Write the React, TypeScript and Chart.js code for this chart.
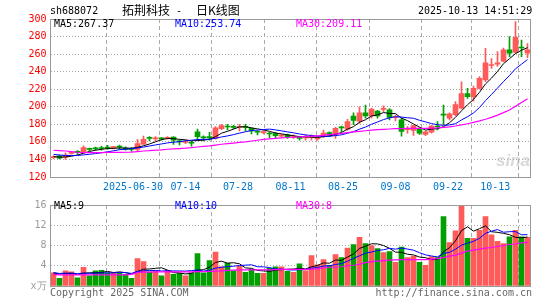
import React, { useEffect, useRef } from 'react';
import { Chart, registerables } from 'chart.js';

Chart.register(...registerables);

const MONO = '"DejaVu Sans Mono", "Liberation Mono", monospace';
const CJK = '"Noto Sans CJK SC", "DejaVu Sans", sans-serif';
const UP = '#ff5a5a';
const DOWN = '#00a000';

const DATES = [
  '06-16', '06-17', '06-18', '06-19', '06-20', '06-23', '06-24', '06-25', '06-26', '06-27',
  '06-30', '07-01', '07-02', '07-03', '07-04', '07-07', '07-08', '07-09', '07-10', '07-11',
  '07-14', '07-15', '07-16', '07-17', '07-18', '07-21', '07-22', '07-23', '07-24', '07-25',
  '07-28', '07-29', '07-30', '07-31', '08-01', '08-04', '08-05', '08-06', '08-07', '08-08',
  '08-11', '08-12', '08-13', '08-14', '08-15', '08-18', '08-19', '08-20', '08-21', '08-22',
  '08-25', '08-26', '08-27', '08-28', '08-29', '09-01', '09-02', '09-03', '09-04', '09-05',
  '09-08', '09-09', '09-10', '09-11', '09-12', '09-15', '09-16', '09-17', '09-18', '09-19',
  '09-22', '09-23', '09-24', '09-25', '09-26', '09-29', '09-30', '10-09', '10-10', '10-13',
];

const OPEN = [
  142, 144, 142.5, 147, 148.5, 148, 152, 152.5, 153, 153.5,
  153.5, 154.5, 153, 152, 151.5, 157.5, 164.5, 163.5, 164.5, 164,
  165.5, 161, 159.5, 159.5, 171.5, 165.5, 166, 164, 175, 178,
  177, 176.5, 177, 175.5, 171.5, 170.5, 170, 169.5, 166.5, 168,
  165, 164.5, 164.5, 165, 163.5, 166, 170.5, 168.5, 176.5, 174.5,
  189.5, 183.5, 193, 189.5, 195, 197, 196.5, 187.5, 185, 174,
  173, 175.5, 168.5, 171, 177.5, 191.5, 187, 191, 198.5, 215,
  211.5, 221, 230.5, 247, 248.5, 252, 265, 262, 268, 261,
];

const CLOSE = [
  143, 141.5, 145, 147.5, 148, 153.5, 151.5, 152, 152.5, 153,
  154, 154, 151.5, 151.5, 158, 163, 164, 164, 163.5, 165,
  162, 160, 161, 158.5, 166, 164.5, 164.5, 176, 178.5, 177,
  176.5, 177.5, 176.5, 172.5, 171, 171, 169, 167, 167.5, 165.5,
  166, 164, 166, 165.5, 164, 170, 168, 175.5, 176, 183,
  184.5, 193, 189.5, 197.5, 189.5, 197.5, 188, 188.5, 172, 175,
  178.5, 170, 171.5, 178, 177, 190.5, 192, 202.5, 215, 211.5,
  221, 232.5, 250, 248, 250, 265, 261, 279, 267, 265,
];

const HIGH = [
  144, 145, 147.5, 149, 150, 155.5, 153, 154, 155, 156,
  155, 156.5, 154.5, 153.5, 163, 166.5, 166, 166, 165, 166,
  166, 162, 162, 160.5, 174.5, 167, 171, 177.5, 180, 180,
  179, 180, 180, 176, 173, 173, 171, 171, 169, 169,
  168, 166, 168, 168, 166, 173.5, 171.5, 176.5, 178, 185.7,
  193, 200, 202, 198.5, 196, 201, 198, 190.5, 187, 177.5,
  179, 176, 172, 179, 183, 202, 193, 206, 228.5, 221,
  223.5, 234.5, 266.5, 255, 263, 267, 280, 297, 276, 272,
];

const LOW = [
  141, 140.5, 140, 146, 146, 147.5, 150, 150.5, 150.5, 151.5,
  152, 151.5, 150.5, 149, 150, 157, 161, 161, 162, 163,
  157, 156.5, 158, 155, 162, 161, 162, 163, 174, 173.5,
  175, 172.5, 172.5, 169, 168, 169, 164.8, 164, 165, 164,
  164, 162, 162, 162, 162, 165, 166.5, 164, 171.5, 173,
  179.5, 181, 187, 187, 187, 194.5, 185, 183.8, 166.5, 169.8,
  167.5, 168.5, 167, 170, 173.5, 179.5, 185, 190, 197.5, 209.5,
  206.5, 220, 228.5, 243.8, 246, 251, 257, 261, 257, 256,
];

// volume, in 万
const VOLUME = [
  2.6, 1.5, 3.0, 2.8, 1.6, 3.7, 2.0, 3.0, 3.1, 2.6,
  2.6, 2.6, 2.3, 1.5, 5.4, 4.8, 2.8, 3.0, 2.0, 3.1,
  2.3, 2.5, 2.0, 2.6, 6.4, 2.6, 5.0, 6.7, 3.8, 4.5,
  3.0, 3.9, 2.7, 3.3, 2.5, 2.5, 3.5, 3.8, 3.8, 2.9,
  2.7, 4.4, 3.0, 6.0, 4.2, 5.2, 4.1, 6.2, 5.6, 7.5,
  8.2, 9.6, 8.4, 8.0, 7.4, 6.6, 6.8, 4.7, 7.7, 5.6,
  5.9, 4.7, 4.1, 5.8, 5.6, 13.7, 8.6, 10.9, 15.9, 9.4,
  9.4, 11.0, 13.7, 10.1, 8.8, 8.4, 9.7, 11.0, 9.7, 9.6,
];

// closes / volumes of the 9 sessions before the first one shown (for MA5 / MA10)
const PRIOR_CLOSE = [150, 149.5, 148, 147.5, 147, 145, 144, 143, 141.5];
const PRIOR_VOLUME = [2.8, 2.5, 2.6, 2.9, 2.4, 2.7, 2.5, 2.8, 2.4];

// MA30 lines
const PRICE_MA30 = [
  150.5, 150, 149.6, 149, 148.2, 147.8, 147.7, 147.7, 147.8, 148,
  148.1, 148.1, 148.2, 148.3, 149, 149.6, 150, 150.6, 151, 151.6,
  152, 152.4, 152.8, 153.4, 154.2, 154.8, 155.5, 156.4, 157.3, 158,
  158.7, 159.4, 160.1, 161, 161.9, 162.8, 163.5, 164, 164.6, 165,
  165.3, 165.7, 166, 166.4, 166.9, 167.5, 168.2, 169, 169.8, 170.6,
  171.3, 172, 172.7, 173.3, 173.9, 174.3, 174.7, 175, 175.2, 175.3,
  175.4, 175.4, 175.5, 175.7, 176, 176.6, 177.2, 178.1, 179.3, 180.7,
  182.2, 183.9, 185.8, 188, 190.5, 193.3, 196.4, 200.5, 205, 209.1,
];

const VOLUME_MA30 = [
  2.3, 2.2, 2.2, 2.2, 2.2, 2.2, 2.2, 2.2, 2.2, 2.2,
  2.2, 2.2, 2.2, 2.3, 2.7, 2.75, 2.75, 2.8, 2.8, 2.8,
  2.8, 2.8, 2.8, 2.8, 2.85, 2.85, 2.9, 2.95, 3.0, 3.1,
  3.15, 3.2, 3.2, 3.2, 3.2, 3.2, 3.2, 3.25, 3.3, 3.3,
  3.3, 3.3, 3.3, 3.35, 3.4, 3.6, 3.7, 3.75, 3.8, 4.0,
  4.1, 4.3, 4.6, 4.8, 4.9, 5.0, 5.1, 5.15, 5.2, 5.2,
  5.2, 5.2, 5.2, 5.3, 5.4, 5.6, 5.9, 6.1, 6.5, 6.9,
  7.1, 7.3, 7.5, 7.6, 7.8, 8.0, 8.2, 8.3, 8.5, 8.6,
];

const TICK_INDEX = [10, 20, 30, 40, 50, 60, 70, 79];
const TICK_LABELS = ['2025-06-30', '07-14', '07-28', '08-11', '08-25', '09-08', '09-22', '10-13'];

function movingAverage(prior: number[], values: number[], n: number): number[] {
  const all = prior.concat(values);
  return values.map((_, i) => {
    const end = prior.length + i;
    let s = 0;
    for (let k = end - n + 1; k <= end; k++) s += all[k];
    return s / n;
  });
}

const framePlugin = {
  id: 'frame',
  afterDraw(chart: any) {
    const { ctx, chartArea: a } = chart;
    ctx.save();
    ctx.strokeStyle = '#999999';
    ctx.lineWidth = 1;
    const l = Math.floor(a.left) + 0.5;
    const r = Math.floor(a.right) + 0.5;
    const t = Math.floor(a.top) + 0.5;
    const b = Math.floor(a.bottom) + 0.5;
    ctx.strokeRect(l, t, r - l, b - t);
    ctx.restore();
  },
};

function dateScale(showLabels: boolean): any {
  return {
    type: 'linear',
    axis: 'x',
    position: 'bottom',
    min: 0,
    max: 80,
    afterBuildTicks: (s: any) => {
      s.ticks = TICK_INDEX.map((v) => ({ value: v }));
    },
    afterFit: (s: any) => {
      s.height = showLabels ? 18 : 0;
    },
    grid: { color: '#aaaaaa', drawTicks: false, lineWidth: 1 },
    border: { display: false, dash: [4, 3] },
    ticks: {
      display: showLabels,
      color: '#0077cc',
      font: { family: MONO, size: 10 },
      padding: 4,
      maxRotation: 0,
      minRotation: 0,
      autoSkip: false,
      callback: (v: number) => {
        const k = TICK_INDEX.indexOf(v);
        return k >= 0 ? TICK_LABELS[k] : '';
      },
    },
  };
}

function lineSet(data: number[], color: string, width = 1): any {
  return {
    type: 'line',
    data,
    borderColor: color,
    borderWidth: width,
    pointRadius: 0,
    tension: 0,
    order: 0,
    xAxisID: 'x',
    yAxisID: 'y',
  };
}

const textBase: React.CSSProperties = {
  position: 'absolute',
  fontFamily: MONO,
  fontSize: 10,
  lineHeight: '12px',
  whiteSpace: 'pre',
};

export default function App() {
  const priceRef = useRef<HTMLCanvasElement>(null);
  const volRef = useRef<HTMLCanvasElement>(null);

  useEffect(() => {
    const colors = CLOSE.map((c, i) => (c >= OPEN[i] ? UP : DOWN));
    const ma5 = movingAverage(PRIOR_CLOSE, CLOSE, 5);
    const ma10 = movingAverage(PRIOR_CLOSE, CLOSE, 10);
    const vma5 = movingAverage(PRIOR_VOLUME, VOLUME, 5);
    const vma10 = movingAverage(PRIOR_VOLUME, VOLUME, 10);

    const price = new Chart(priceRef.current as HTMLCanvasElement, {
      type: 'bar',
      data: {
        labels: DATES,
        datasets: [
          lineSet(PRICE_MA30, '#ff00ff', 1.2),
          lineSet(ma10, '#0000ff'),
          lineSet(ma5, '#000000'),
          {
            type: 'bar',
            data: OPEN.map((o, i) => [o, CLOSE[i]]),
            backgroundColor: colors,
            barThickness: 5,
            minBarLength: 1,
            grouped: false,
            order: 1,
            xAxisID: 'x',
            yAxisID: 'y',
          },
          {
            type: 'bar',
            data: LOW.map((l, i) => [l, HIGH[i]]),
            backgroundColor: colors,
            barThickness: 1,
            grouped: false,
            order: 2,
            xAxisID: 'x',
            yAxisID: 'y',
          },
        ] as any,
      },
      options: {
        responsive: false,
        animation: false,
        events: [],
        layout: { padding: { top: 19, right: 14.5, left: 0, bottom: 0 } },
        plugins: { legend: { display: false }, tooltip: { enabled: false } },
        scales: {
          x: { type: 'category', display: false, offset: true, grid: { display: false } },
          xd: dateScale(true),
          y: {
            type: 'linear',
            min: 120,
            max: 300,
            afterFit: (s: any) => {
              s.width = 50.5;
            },
            grid: { color: '#aaaaaa', drawTicks: false, lineWidth: 1 },
            border: { display: false, dash: [1, 2] },
            ticks: { stepSize: 20, color: '#ff0000', font: { family: MONO, size: 10 }, padding: 4 },
          },
        } as any,
      },
      plugins: [framePlugin],
    });

    const vol = new Chart(volRef.current as HTMLCanvasElement, {
      type: 'bar',
      data: {
        labels: DATES,
        datasets: [
          lineSet(VOLUME_MA30, '#ff00ff', 1.2),
          lineSet(vma10, '#0000ff'),
          lineSet(vma5, '#000000'),
          {
            type: 'bar',
            data: VOLUME,
            backgroundColor: colors,
            barThickness: 5,
            grouped: false,
            order: 1,
            xAxisID: 'x',
            yAxisID: 'y',
          },
        ] as any,
      },
      options: {
        responsive: false,
        animation: false,
        events: [],
        layout: { padding: { top: 6, right: 14.5, left: 0, bottom: 14 } },
        plugins: { legend: { display: false }, tooltip: { enabled: false } },
        scales: {
          x: { type: 'category', display: false, offset: true, grid: { display: false } },
          xd: dateScale(false),
          y: {
            type: 'linear',
            min: 0,
            max: 16,
            afterFit: (s: any) => {
              s.width = 50.5;
            },
            grid: { color: '#aaaaaa', drawTicks: false, lineWidth: 1 },
            border: { display: false, dash: [1, 2] },
            ticks: {
              stepSize: 4,
              color: '#999999',
              font: { family: MONO, size: 10 },
              padding: 4,
              callback: (v: number) => (v === 0 ? 'x万' : String(v)),
            },
          },
        } as any,
      },
      plugins: [framePlugin],
    });

    return () => {
      price.destroy();
      vol.destroy();
    };
  }, []);

  return (
    <div
      style={{
        position: 'fixed',
        left: 0,
        top: 0,
        width: 545,
        height: 300,
        background: '#ffffff',
        overflow: 'hidden',
      }}
    >
      <canvas ref={priceRef} width={545} height={195} style={{ position: 'absolute', left: 0, top: 0 }} />
      <canvas ref={volRef} width={545} height={105} style={{ position: 'absolute', left: 0, top: 195 }} />

      <div style={{ ...textBase, left: 50, top: 5, color: '#000' }}>sh688072</div>
      <div style={{ ...textBase, left: 122, top: 3, fontFamily: CJK, fontSize: 12, lineHeight: '14px', color: '#000' }}>
        拓荆科技
      </div>
      <div style={{ ...textBase, left: 176, top: 5, color: '#000' }}>-</div>
      <div style={{ ...textBase, left: 196, top: 3, fontFamily: CJK, fontSize: 12, lineHeight: '14px', color: '#000' }}>
        日K线图
      </div>
      <div style={{ ...textBase, left: 418, top: 5, color: '#000' }}>2025-10-13 14:51:29</div>

      <div style={{ ...textBase, left: 54, top: 18, color: '#000' }}>MA5:267.37</div>
      <div style={{ ...textBase, left: 175, top: 18, color: '#0000ff' }}>MA10:253.74</div>
      <div style={{ ...textBase, left: 296, top: 18, color: '#ff00ff' }}>MA30:209.11</div>

      <div style={{ ...textBase, left: 54, top: 200, color: '#000' }}>MA5:9</div>
      <div style={{ ...textBase, left: 175, top: 200, color: '#0000ff' }}>MA10:10</div>
      <div style={{ ...textBase, left: 296, top: 200, color: '#ff00ff' }}>MA30:8</div>

      <div
        style={{
          ...textBase,
          left: 496,
          top: 152,
          fontFamily: '"Liberation Sans", sans-serif',
          fontSize: 17,
          lineHeight: '18px',
          fontStyle: 'italic',
          fontWeight: 'bold',
          color: 'rgba(185,185,185,0.55)',
        }}
      >
        sina
      </div>

      <div style={{ ...textBase, left: 50, top: 287, color: '#666' }}>Copyright 2025 SINA.COM</div>
      <div style={{ ...textBase, right: 13, top: 287, color: '#666' }}>http://finance.sina.com.cn</div>
    </div>
  );
}
